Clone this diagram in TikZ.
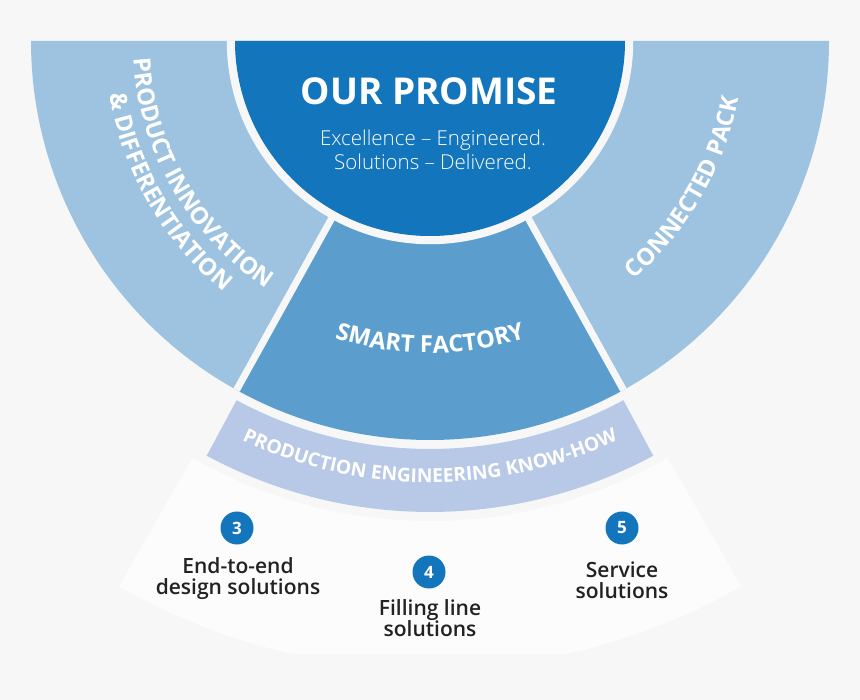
\documentclass[tikz,border=0pt]{standalone}
\usepackage{fontspec}
\setmainfont{Open Sans}
\IfFontExistsTF{Open Sans Light}{\newfontfamily\lightfont{Open Sans Light}}{\newfontfamily\lightfont{Open Sans}}
\IfFontExistsTF{Open Sans SemiBold}{\newfontfamily\itemfont{Open Sans SemiBold}}{%
  \IfFontExistsTF{Open Sans Semibold}{\newfontfamily\itemfont{Open Sans Semibold}}{\newfontfamily\itemfont{Open Sans}}}
\usetikzlibrary{decorations.text}
\definecolor{bgc}{HTML}{F7F7F7}
\definecolor{promisec}{HTML}{1375BC}
\definecolor{smartc}{HTML}{5B9ECE}
\definecolor{sidec}{HTML}{9DC3E0}
\definecolor{bandc}{HTML}{B8C9E7}
\definecolor{zonec}{HTML}{FCFCFC}
\definecolor{darktext}{HTML}{222222}
\newcommand{\segfont}{\fontsize{23.6}{27}\selectfont\bfseries}
\newcommand{\bandfont}{\fontsize{19.2}{23}\selectfont\bfseries}
\tikzset{
  gapline/.style={draw=bgc, line width=7pt},
  arclabel/.style={decorate, decoration={text along path, text align=center, text color=white, text={#1}}},
  numdot/.style={circle, fill=promisec, text=white, minimum size=33pt, inner sep=0pt, font=\fontsize{17}{17}\selectfont\bfseries},
  itemtext/.style={text=darktext, anchor=base, inner sep=0pt, font=\fontsize{21}{21}\selectfont\itemfont},
  titletext/.style={text=white, anchor=base, inner sep=0pt, font=\fontsize{37}{37}\selectfont\bfseries},
  subtext/.style={text=white, anchor=base, inner sep=0pt, font=\fontsize{20.5}{20.5}\selectfont\lightfont}
}
\begin{document}
\begin{tikzpicture}[x=1pt,y=-1pt]
\useasboundingbox (0,0) rectangle (860,700);
\fill[bgc] (0,0) rectangle (860,700);
\begin{scope}[shift={(430,41)}]
  \begin{scope}
    \clip (-500,0) rectangle (500,612);
    \fill[zonec] (119.7:480) arc[start angle=119.7,end angle=60.3,radius=480] -- (60.3:628) arc[start angle=60.3,end angle=119.7,radius=628] -- cycle;
  \end{scope}
  \fill[bandc] (118.3:408) arc[start angle=118.3,end angle=61.7,radius=408] -- (61.7:471) arc[start angle=61.7,end angle=118.3,radius=471] -- cycle;
  \fill[sidec] (0,0) -- (180:399) arc[start angle=180,end angle=119,radius=399] -- cycle;
  \fill[sidec] (0,0) -- (61:399) arc[start angle=61,end angle=0,radius=399] -- cycle;
  \fill[smartc] (0,0) -- (119:399) arc[start angle=119,end angle=61,radius=399] -- cycle;
  \draw[gapline] (119:199) -- (119:399);
  \draw[gapline] (61:199) -- (61:399);
  \draw[bgc, line width=8.5pt] (180:199) arc[start angle=180,end angle=0,radius=199];
  \fill[promisec] (180:195) arc[start angle=180,end angle=0,radius=195] -- cycle;
  \path[arclabel={|\segfont|SMART FACTORY}] (120:312) arc[start angle=120,end angle=60,radius=312];
  \path[arclabel={|\segfont|PRODUCT INNOVATION}] (179:297) arc[start angle=179,end angle=121,radius=297];
  \path[arclabel={|\segfont|{\&} DIFFERENTIATION}] (179:325) arc[start angle=179,end angle=121,radius=325];
  \path[arclabel={|\segfont|CONNECTED PACK}] (60:313.5) arc[start angle=60,end angle=0,radius=313.5];
  \path[arclabel={|\bandfont|PRODUCTION ENGINEERING KNOW-HOW}] (118:441.5) arc[start angle=118,end angle=62,radius=441.5];
\end{scope}
\node[titletext] (title) at (429,105) {OUR PROMISE};
\node[subtext] (sub1) at (433,146) {Excellence – Engineered.};
\node[subtext] (sub2) at (433,170) {Solutions – Delivered.};
\node[numdot] (n3) at (237,528) {3};
\node[numdot] (n4) at (429,572) {4};
\node[numdot] (n5) at (622,528) {5};
\node[itemtext] (t3a) at (238,573) {End-to-end};
\node[itemtext] (t3b) at (238,594) {design solutions};
\node[itemtext] (t4a) at (430,615) {Filling line};
\node[itemtext] (t4b) at (430,636) {solutions};
\node[itemtext] (t5a) at (622,577) {Service};
\node[itemtext] (t5b) at (622,598) {solutions};
\end{tikzpicture}
\end{document}
